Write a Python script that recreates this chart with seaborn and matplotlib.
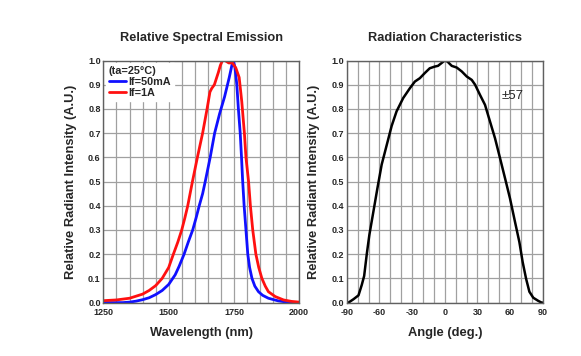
import pandas as pd
import seaborn as sns
import matplotlib.pyplot as plt

# spectral emission
wl_50ma = [1250, 1300, 1325, 1350, 1375, 1400, 1425, 1450, 1475, 1500, 1525, 1540, 1559, 1575, 1592, 1605, 1617, 1630,
           1640, 1659, 1676, 1695, 1714, 1732, 1742, 1748, 1754, 1761, 1767, 1774, 1779, 1783, 1789, 1796, 1803, 1810,
           1819, 1830, 1844, 1860, 1882, 1920, 1960, 2000]
int_50ma = [0.0, 0.0, 0.0, 0.002, 0.006, 0.012, 0.02, 0.033, 0.05, 0.075, 0.115, 0.15, 0.20, 0.25, 0.30, 0.35, 0.40, 0.45,
            0.50, 0.60, 0.70, 0.78, 0.85, 0.93, 0.98, 1.0, 0.97, 0.90, 0.80, 0.70, 0.60, 0.51, 0.40, 0.30, 0.20, 0.145,
            0.10, 0.068, 0.045, 0.03, 0.018, 0.007, 0.001, 0.0]
wl_1a = [1250, 1300, 1350, 1400, 1425, 1450, 1475, 1500, 1518, 1535, 1550, 1562, 1573, 1591, 1610, 1630, 1647, 1658,
         1665, 1675, 1690, 1698, 1706, 1716, 1730, 1744, 1757, 1770, 1780, 1790, 1796, 1806, 1813, 1822, 1834, 1845,
         1857, 1870, 1882, 1908, 1940, 1970, 2000]
int_1a = [0.008, 0.011, 0.018, 0.035, 0.05, 0.07, 0.10, 0.145, 0.20, 0.25, 0.30, 0.35, 0.40, 0.50, 0.60, 0.70, 0.80,
          0.87, 0.885, 0.90, 0.95, 0.98, 1.0, 1.0, 0.99, 0.99, 0.97, 0.93, 0.83, 0.70, 0.60, 0.50, 0.40, 0.30, 0.20,
          0.145, 0.10, 0.068, 0.045, 0.025, 0.011, 0.005, 0.002]

# radiation pattern
angle = [-90, -88.5, -83.9, -79.3, -76.3, -74.1, -71.7, -69.3, -65.6, -62, -58, -53.4, -48.8, -44.3, -38.2, -32, -27.5,
         -22.9, -18.4, -13.8, -9.2, -6.2, -3.1, 0, 2.4, 6.4, 11, 15.6, 20.2, 24.8, 27.9, 32.4, 37, 41.6, 46.2, 50.8,
         55.4, 60, 64.6, 68.6, 71.6, 74.7, 77.8, 81.4, 86, 89, 90]
rel_int = [0.0, 0.0, 0.014, 0.03, 0.073, 0.11, 0.20, 0.28, 0.376, 0.47, 0.57, 0.65, 0.73, 0.79, 0.845, 0.886, 0.913,
           0.927, 0.948, 0.968, 0.975, 0.978, 0.989, 1.0, 0.996, 0.978, 0.971, 0.955, 0.934, 0.92, 0.90, 0.858, 0.817,
           0.748, 0.679, 0.597, 0.514, 0.43, 0.333, 0.25, 0.168, 0.10, 0.045, 0.02, 0.007, 0.0, 0.0]

sns.set_style('white')
plt.rcParams['font.family'] = ['Liberation Sans', 'DejaVu Sans']
plt.rcParams['font.weight'] = 'bold'

spec = pd.concat([
    pd.DataFrame({'wl': wl_50ma, 'val': int_50ma, 'cond': 'If=50mA'}),
    pd.DataFrame({'wl': wl_1a, 'val': int_1a, 'cond': 'If=1A'}),
])
rad = pd.DataFrame({'angle': angle, 'val': rel_int})

fig = plt.figure(figsize=(5.81, 3.56), dpi=100)
ax1 = fig.add_axes([0.178, 0.150, 0.337, 0.680])
ax2 = fig.add_axes([0.597, 0.150, 0.337, 0.680])

sns.lineplot(data=spec, x='wl', y='val', hue='cond', palette={'If=50mA': '#1010ff', 'If=1A': '#ff1010'},
             linewidth=2, ax=ax1, sort=False)
sns.lineplot(data=rad, x='angle', y='val', color='black', linewidth=1.8, ax=ax2, sort=False)

for ax in (ax1, ax2):
    ax.set_ylim(0, 1.0)
    ax.set_yticks([i / 10 for i in range(11)])
    ax.set_yticklabels([f'{i / 10:.1f}' for i in range(11)], fontsize=6.5, fontweight='bold')
    ax.grid(True, which='both', color='#a0a0a0', linewidth=0.9)
    ax.tick_params(axis='y', which='both', length=0, pad=2)
    ax.tick_params(axis='x', which='both', length=0, pad=4)
    for s in ax.spines.values():
        s.set_color('#606060')
        s.set_linewidth(1)
    ax.set_ylabel('Relative Radiant Intensity (A.U.)', fontsize=9.3, fontweight='bold', labelpad=8)

ax1.set_xlim(1250, 2000)
ax1.set_xticks([1250, 1500, 1750, 2000])
ax1.set_xticks(range(1250, 2001, 50), minor=True)
ax1.set_xticklabels(['1250', '1500', '1750', '2000'], fontsize=6.5, fontweight='bold')
ax1.set_xlabel('Wavelength (nm)', fontsize=9.3, fontweight='bold', labelpad=7)
ax1.set_title('Relative Spectral Emission', fontsize=9.2, fontweight='bold', pad=14)
leg = ax1.legend(title='(ta=25°C)', loc='upper left', fontsize=7.8, title_fontsize=7.8, frameon=True, fancybox=False,
                 framealpha=1, edgecolor='white', borderpad=0.3, handlelength=1.6, handletextpad=0.2,
                 labelspacing=0.1, borderaxespad=0.2)
leg.get_title().set_fontweight('bold')
leg._legend_box.align = 'left'
for t in leg.get_texts():
    t.set_fontweight('bold')

ax2.set_xlim(-90, 90)
ax2.set_xticks(range(-90, 91, 30))
ax2.set_xticks(range(-90, 91, 10), minor=True)
ax2.set_xticklabels([str(v) for v in range(-90, 91, 30)], fontsize=6.5, fontweight='bold')
ax2.set_xlabel('Angle (deg.)', fontsize=9.3, fontweight='bold', labelpad=7)
ax2.set_title('Radiation Characteristics', fontsize=9.2, fontweight='bold', pad=14)
ax2.text(52, 0.855, '±57', fontsize=9.5, fontweight='normal', va='center', ha='left')

fig.savefig('out.png', dpi=100)
